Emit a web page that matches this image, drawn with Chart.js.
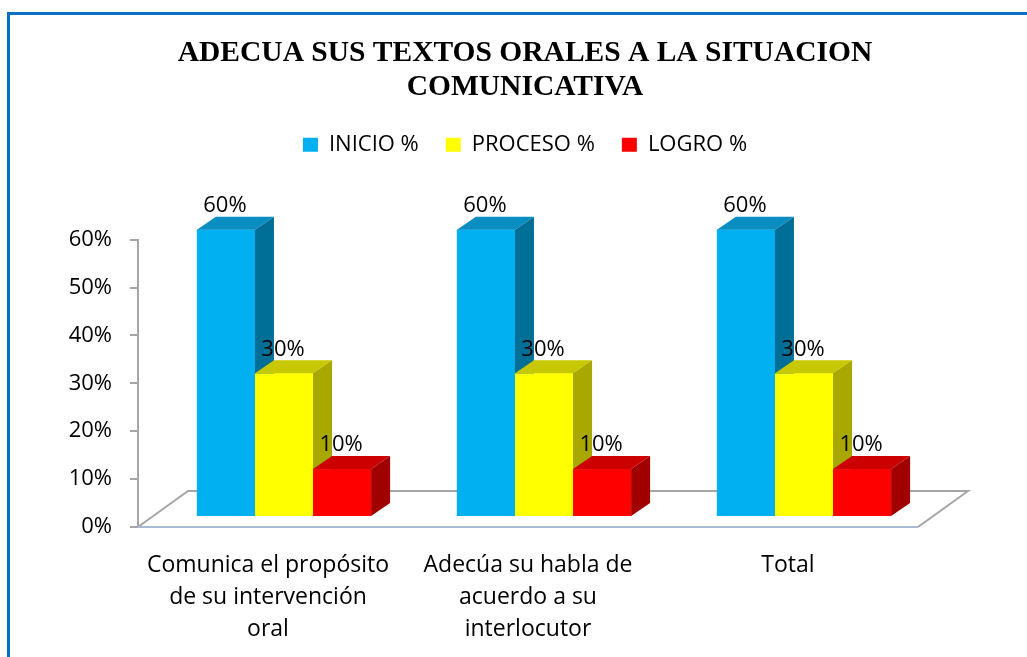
<!DOCTYPE html>
<html>
<head>
<meta charset="utf-8">
<script src="https://cdn.jsdelivr.net/npm/chart.js@4.4.1/dist/chart.umd.min.js"></script>
<style>
    body { margin: 0; background: #fff; overflow: hidden; }
    #wrap { position: relative; width: 1027px; height: 657px; }
    #frame {
        position: absolute; left: 7px; top: 12px; width: 1100px; height: 700px;
        border: 3px solid #0a70c4; pointer-events: none;
    }
</style>
</head>
<body>
<div id="wrap">
    <canvas id="chart" width="1027" height="657"></canvas>
    <div id="frame"></div>
</div>
<script>
const categories = [
    ['Comunica el propósito', 'de su intervención', 'oral'],
    ['Adecúa su habla de', 'acuerdo a su', 'interlocutor'],
    'Total'
];
const seriesNames = ['INICIO %', 'PROCESO %', 'LOGRO %'];
const inicio = [60, 60, 60];
const proceso = [30, 30, 30];
const logro = [10, 10, 10];
const yTicks = [0, 10, 20, 30, 40, 50, 60];

// front, top, side colours for each series
const faces = [
    { front: '#00b0f0', top: '#0a8ec2', side: '#006f98' },
    { front: '#ffff00', top: '#c8c800', side: '#a8a800' },
    { front: '#ff0000', top: '#cc0000', side: '#a00000' }
];

// 3D look: bar offset inside the floor and bar depth
const SHIFT = { x: 16, y: -10 };
const DEPTH = { x: 19, y: -13 };
const FLOOR = { x: 50, y: -36 };

const bars3d = {
    id: 'bars3d',
    beforeDatasetsDraw(chart) {
        const { ctx, chartArea: a } = chart;
        // floor
        ctx.save();
        ctx.fillStyle = '#fff';
        ctx.beginPath();
        ctx.moveTo(a.left, a.bottom);
        ctx.lineTo(a.left + FLOOR.x, a.bottom + FLOOR.y);
        ctx.lineTo(a.right + FLOOR.x, a.bottom + FLOOR.y);
        ctx.lineTo(a.right, a.bottom);
        ctx.closePath();
        ctx.fill();
        ctx.lineWidth = 2;
        ctx.strokeStyle = '#a6a6a6';
        ctx.beginPath();
        ctx.moveTo(a.left, a.bottom);
        ctx.lineTo(a.left + FLOOR.x, a.bottom + FLOOR.y);
        ctx.lineTo(a.right + FLOOR.x, a.bottom + FLOOR.y);
        ctx.lineTo(a.right, a.bottom);
        ctx.stroke();
        ctx.strokeStyle = '#a9bad3';
        ctx.beginPath();
        ctx.moveTo(a.left, a.bottom);
        ctx.lineTo(a.right, a.bottom);
        ctx.stroke();
        ctx.restore();

        ctx.save();
        ctx.translate(SHIFT.x, SHIFT.y);
    },
    afterDatasetsDraw(chart) {
        const { ctx } = chart;
        const metas = chart.data.datasets.map((d, i) => chart.getDatasetMeta(i));
        categories.forEach((c, idx) => {
            metas.forEach((meta, s) => {
                const bar = meta.data[idx];
                const f = faces[s];
                const x0 = bar.x - bar.width / 2;
                const x1 = bar.x + bar.width / 2;
                const top = bar.y;
                const base = bar.base;
                ctx.fillStyle = f.front;
                ctx.fillRect(x0, top, x1 - x0, base - top);
                ctx.fillStyle = f.top;
                ctx.beginPath();
                ctx.moveTo(x0, top);
                ctx.lineTo(x0 + DEPTH.x, top + DEPTH.y);
                ctx.lineTo(x1 + DEPTH.x, top + DEPTH.y);
                ctx.lineTo(x1, top);
                ctx.closePath();
                ctx.fill();
                ctx.fillStyle = f.side;
                ctx.beginPath();
                ctx.moveTo(x1, top);
                ctx.lineTo(x1 + DEPTH.x, top + DEPTH.y);
                ctx.lineTo(x1 + DEPTH.x, base + DEPTH.y);
                ctx.lineTo(x1, base);
                ctx.closePath();
                ctx.fill();
            });
        });
        // value labels
        ctx.fillStyle = '#000';
        ctx.font = '22px "Open Sans"';
        ctx.textAlign = 'center';
        ctx.textBaseline = 'middle';
        metas.forEach(meta => {
            meta.data.forEach((bar, i) => {
                const v = chart.data.datasets[meta.index].data[i];
                ctx.fillText(v + '%', bar.x - 1, bar.y - 24);
            });
        });
        ctx.restore();
    }
};

Chart.defaults.color = '#000';
Chart.defaults.font.family = '"Open Sans", sans-serif';

new Chart(document.getElementById('chart'), {
    type: 'bar',
    data: {
        labels: categories,
        datasets: [
            { label: seriesNames[0], data: inicio, backgroundColor: faces[0].front, clip: false },
            { label: seriesNames[1], data: proceso, backgroundColor: faces[1].front, clip: false },
            { label: seriesNames[2], data: logro, backgroundColor: faces[2].front, clip: false }
        ]
    },
    options: {
        responsive: false,
        animation: false,
        layout: { padding: { left: 23, right: 0, top: 0, bottom: 0 } },
        datasets: { bar: { categoryPercentage: 0.67, barPercentage: 1 } },
        plugins: {
            title: {
                display: true,
                text: ['ADECUA SUS TEXTOS ORALES A LA SITUACION', 'COMUNICATIVA'],
                font: { family: '"Liberation Serif", serif', size: 29.5, weight: 'bold', lineHeight: 1.13 },
                color: '#000',
                padding: { top: 37, bottom: 3 }
            },
            subtitle: {
                display: true,
                text: '',
                weight: 500,
                font: { size: 10, lineHeight: 1 },
                padding: { top: 64, bottom: 0 }
            },
            legend: {
                position: 'top',
                labels: {
                    boxWidth: 15,
                    boxHeight: 14,
                    padding: 27,
                    font: { size: 22 }
                }
            },
            tooltip: { enabled: false }
        },
        scales: {
            x: {
                grid: { display: false },
                border: { display: false },
                ticks: { font: { size: 23, lineHeight: 1.4 }, padding: 14, maxRotation: 0, autoSkip: false },
                afterFit: s => { s.height = 130; }
            },
            y: {
                min: yTicks[0],
                max: yTicks[yTicks.length - 1],
                afterBuildTicks: s => { s.ticks = yTicks.map(v => ({ value: v })); },
                grid: { drawOnChartArea: false, tickLength: 8, color: '#a6a6a6', lineWidth: 2 },
                border: { color: '#a6a6a6', width: 2 },
                ticks: { font: { size: 22 }, padding: 18, callback: v => v + '%' },
                afterFit: s => { s.width = 115; }
            },
            // empty right box that keeps room for the floor's depth
            yRight: {
                position: 'right',
                grid: { display: false },
                border: { display: false },
                ticks: { display: false },
                afterFit: s => { s.width = 109; }
            }
        }
    },
    plugins: [bars3d]
});
</script>
</body>
</html>
